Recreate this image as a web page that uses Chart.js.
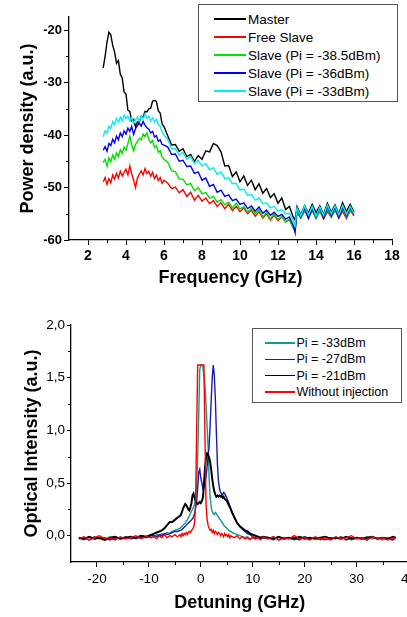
<!DOCTYPE html>
<html>
<head>
<meta charset="utf-8">
<script src="https://cdn.jsdelivr.net/npm/chart.js@4.4.1/dist/chart.umd.min.js"></script>
<style>
  body { margin: 0; width: 407px; height: 617px; overflow: hidden; background: #fff;
         font-family: "Liberation Sans", Arial, sans-serif; }
  canvas { position: absolute; left: 0; }
  #top { top: 0; }
  #bottom { top: 300px; }
  .legend { position: absolute; box-sizing: border-box; border: 1.5px solid #555; background: #fff; color: #000; }
  .legend .row { display: flex; align-items: center; white-space: nowrap; }
  .legend .swatch { display: inline-block; height: 1.5px; }
</style>
</head>
<body>
<canvas id="top" width="407" height="300"></canvas>
<canvas id="bottom" width="420" height="317"></canvas>
<div id="legendTop" class="legend" style="left:198px;top:4px;width:200px;height:98px;padding-top:5px;font-size:13.5px"></div>
<div id="legendBottom" class="legend" style="left:252px;top:328px;width:150px;height:75px;padding-top:6px;font-size:12.5px"></div>
<script>
// ---- top panel: RF spectra ----
const freqGHz = [
  2.8, 2.9, 3.0, 3.1, 3.2, 3.3, 3.4, 3.5, 3.6, 3.7, 3.8, 3.9,
  4.0, 4.1, 4.2, 4.3, 4.4, 4.5, 4.6, 4.7, 4.8, 4.9,
  5.0, 5.1, 5.2, 5.3, 5.4, 5.5, 5.6, 5.7, 5.8, 5.9, 6.0,
  6.2, 6.4, 6.6, 6.8, 7.0, 7.2, 7.4, 7.6, 7.8, 8.0,
  8.2, 8.4, 8.6, 8.8, 9.0, 9.2, 9.4, 9.6, 9.8, 10.0,
  10.2, 10.4, 10.6, 10.8, 11.0, 11.2, 11.4, 11.6, 11.8, 12.0,
  12.2, 12.4, 12.6, 12.8, 12.9, 13.0,
  13.2, 13.4, 13.6, 13.8, 14.0, 14.2, 14.4, 14.6, 14.8, 15.0,
  15.2, 15.4, 15.6, 15.8, 16.0
];
const master = [
  -27.2, -25.0, -22.3, -20.4, -20.9, -22.9, -24.2, -26.3, -25.8, -28.4, -29.1, -31.8,
  -32.2, -35.3, -35.5, -37.3, -37.0, -38.4, -37.5, -37.6, -36.4, -36.6,
  -35.5, -35.6, -35.0, -34.9, -33.5, -33.4, -33.6, -35.4, -35.8, -37.9, -38.4,
  -40.2, -41.9, -41.8, -43.1, -42.6, -44.1, -43.7, -45.0, -43.9, -44.6,
  -43.0, -43.2, -41.6, -42.0, -43.2, -45.9, -45.8, -47.9, -47.0, -48.9,
  -47.8, -49.6, -48.6, -50.4, -49.3, -51.1, -50.2, -51.9, -51.2, -53.0,
  -52.0, -54.2, -53.6, -55.6, -56.2, -53.6,
  -55.2, -53.4, -54.9, -53.2, -54.8, -53.5, -55.1, -53.0, -54.7, -53.3,
  -55.0, -52.9, -54.6, -53.2, -54.7
];
const freeSlave = [
  -48.9, -48.1, -49.4, -48.3, -49.1, -47.6, -48.4, -47.3, -48.2, -46.9, -47.8, -47.1,
  -46.5, -47.6, -45.9, -47.4, -48.6, -50.0, -48.2, -47.5, -46.8, -47.6,
  -46.4, -47.3, -46.9, -47.8, -47.1, -48.3, -47.6, -48.7, -48.1, -49.2, -48.6,
  -49.2, -50.2, -49.9, -51.0, -50.4, -51.7, -50.9, -52.4, -51.5, -52.6,
  -52.0, -53.1, -52.5, -53.6, -52.9, -54.0, -53.2, -54.4, -53.6, -54.6,
  -53.9, -55.0, -54.3, -55.5, -54.6, -55.8, -55.0, -56.2, -55.3, -56.3,
  -55.6, -56.6, -56.1, -57.6, -58.0, -54.8,
  -55.8, -54.4, -55.7, -54.3, -55.8, -54.5, -56.0, -54.6, -55.6, -54.3,
  -55.8, -54.5, -55.9, -54.4, -55.4
];
const slave385 = [
  -45.2, -44.6, -46.0, -44.3, -45.1, -43.8, -44.6, -43.4, -44.1, -42.8, -43.5, -42.3,
  -42.9, -41.6, -40.2, -41.9, -43.0, -41.8, -41.2, -40.6, -40.9, -39.8,
  -40.3, -39.6, -40.8, -41.5, -41.0, -42.4, -42.0, -43.3, -43.0, -44.2, -44.6,
  -45.2, -46.8, -47.0, -48.4, -48.4, -49.5, -49.2, -50.6, -50.0, -51.2,
  -50.9, -52.0, -51.7, -52.8, -52.3, -53.3, -52.8, -53.9, -53.0, -54.1,
  -53.6, -54.7, -53.9, -55.0, -54.2, -55.6, -54.7, -56.0, -55.0, -56.1,
  -55.5, -56.6, -56.0, -57.8, -58.2, -54.4,
  -55.8, -54.2, -55.7, -54.3, -55.9, -54.4, -55.6, -54.1, -55.7, -54.2,
  -55.5, -54.0, -55.6, -54.3, -55.2
];
const slave36 = [
  -42.9, -42.2, -43.1, -41.6, -42.0, -40.8, -41.5, -40.2, -40.9, -39.6, -40.3, -39.2,
  -39.8, -38.7, -39.3, -38.4, -39.9, -38.8, -38.2, -37.7, -38.3, -37.4,
  -38.1, -38.6, -38.9, -39.6, -39.3, -40.4, -40.1, -41.2, -40.9, -41.8, -41.9,
  -42.3, -43.7, -43.6, -45.0, -44.8, -46.0, -45.9, -47.3, -47.0, -48.6,
  -48.2, -49.8, -49.4, -50.9, -50.5, -51.7, -51.4, -52.5, -52.2, -53.2,
  -52.9, -54.0, -53.5, -54.5, -53.7, -54.9, -54.3, -55.3, -54.7, -55.5,
  -55.1, -56.0, -55.6, -57.2, -58.6, -54.0,
  -55.6, -53.9, -55.9, -54.1, -55.7, -53.8, -55.8, -53.6, -55.4, -53.8,
  -55.7, -53.7, -55.4, -53.9, -55.1
];
const slave33 = [
  -40.3, -39.2, -39.6, -38.3, -38.7, -37.4, -38.0, -36.8, -37.5, -36.6, -37.3, -36.2,
  -36.9, -36.4, -37.3, -36.7, -37.8, -37.1, -36.6, -37.4, -36.3, -36.9,
  -36.0, -36.8, -36.4, -37.3, -36.7, -37.5, -37.0, -38.0, -38.3, -39.4, -40.0,
  -40.8, -42.6, -42.6, -43.8, -43.3, -44.6, -44.1, -45.4, -44.8, -45.9,
  -45.4, -46.6, -46.2, -47.5, -47.0, -48.3, -48.1, -49.3, -49.2, -50.5,
  -50.3, -51.5, -51.3, -52.4, -52.0, -53.1, -52.9, -53.9, -53.6, -54.5,
  -54.2, -55.0, -54.9, -56.2, -57.2, -53.9,
  -55.4, -53.5, -55.2, -53.6, -55.5, -53.7, -55.3, -53.3, -55.0, -53.5,
  -55.2, -53.4, -55.1, -53.6, -55.0
];
const topMinorX = [3, 5, 7, 9, 11, 13, 15, 17];
const topMinorY = [-55, -45, -35, -25];

// ---- bottom panel: optical spectra ----
const detuning = [
  -23.5, -22.5, -21.5, -20.5, -19.5, -18.5, -17.5, -16.5, -15.5, -14.5, -13.5, -12.5, -11.5, -10.5, -9.5,
  -9, -8.5, -8, -7.5, -7, -6.5, -6, -5.5, -5, -4.5,
  -4.0, -3.8, -3.6, -3.4, -3.2, -3.0, -2.8, -2.6, -2.4, -2.2,
  -2.0, -1.8, -1.6, -1.4, -1.2, -1.0, -0.8, -0.6, -0.4, -0.2,
  0.0, 0.2, 0.4, 0.6, 0.8, 1.0, 1.2, 1.4, 1.6, 1.8,
  2.0, 2.2, 2.4, 2.6, 2.8, 3.0, 3.2, 3.4, 3.6, 3.8,
  4.0, 4.2, 4.4, 4.6, 4.8, 5.0, 5.2, 5.4, 5.6, 5.8,
  6.0,
  6.5, 7, 7.5, 8, 8.5, 9, 9.5, 10, 10.5, 11, 11.5, 12,
  13, 14, 15, 16, 17, 18, 19, 20, 21, 22, 23, 24, 25,
  26, 27, 28, 29, 30, 31, 32, 33, 34, 35, 36, 37, 37.5
];
const pi33 = [
  -0.02, -0.04, -0.01, -0.03, -0.02, -0.04, -0.01, -0.03, -0.02, -0.03, -0.01, -0.03, -0.02, -0.01, 0.00,
  -0.01, 0.01, 0.00, 0.02, 0.01, 0.03, 0.02, 0.04, 0.05, 0.06,
  0.07, 0.08, 0.09, 0.10, 0.11, 0.12, 0.14, 0.15, 0.17, 0.19,
  0.21, 0.23, 0.25, 0.27, 0.30, 0.36, 0.48, 0.75, 1.15, 1.58,
  1.62, 1.62, 1.60, 1.52, 1.42, 1.25, 1.05, 0.85, 0.55, 0.36,
  0.27, 0.23, 0.21, 0.20, 0.22, 0.21, 0.19, 0.18, 0.16, 0.15,
  0.13, 0.12, 0.10, 0.09, 0.08, 0.07, 0.06, 0.05, 0.04, 0.04,
  0.03,
  0.02, 0.01, 0.00, -0.01, -0.02, -0.01, -0.03, -0.02, -0.03, -0.01, -0.03, -0.02,
  -0.02, -0.04, -0.01, -0.03, -0.02, -0.04, -0.02, -0.01, -0.03, -0.02, -0.04, -0.01, -0.03,
  -0.02, -0.03, -0.01, -0.04, -0.02, -0.03, -0.01, -0.03, -0.02, -0.04, -0.02, -0.03, -0.02
];
const pi27 = [
  -0.03, -0.02, -0.04, -0.01, -0.03, -0.02, -0.04, -0.02, -0.03, -0.01, -0.03, -0.02, -0.01, -0.02, 0.00,
  0.00, -0.01, 0.01, 0.00, 0.02, 0.01, 0.02, 0.03, 0.04, 0.04,
  0.05, 0.05, 0.06, 0.07, 0.08, 0.09, 0.10, 0.11, 0.12, 0.13,
  0.14, 0.15, 0.16, 0.18, 0.21, 0.26, 0.33, 0.45, 0.60, 0.63,
  0.55, 0.50, 0.45, 0.47, 0.50, 0.55, 0.65, 0.75, 0.85, 1.05,
  1.28, 1.50, 1.62, 1.52, 1.30, 0.98, 0.68, 0.52, 0.45, 0.41,
  0.40, 0.39, 0.41, 0.40, 0.38, 0.36, 0.33, 0.31, 0.28, 0.25,
  0.23,
  0.17, 0.12, 0.09, 0.06, 0.04, 0.02, 0.01, -0.01, -0.02, -0.01, -0.03, -0.02,
  -0.03, -0.01, -0.04, -0.02, -0.03, -0.02, -0.04, -0.01, -0.03, -0.02, -0.03, -0.04, -0.02,
  -0.03, -0.01, -0.04, -0.02, -0.03, -0.02, -0.04, -0.01, -0.03, -0.02, -0.03, -0.04, -0.02
];
const pi21 = [
  -0.02, -0.03, -0.01, -0.03, -0.02, -0.04, -0.02, -0.01, -0.03, -0.02, -0.01, -0.02, 0.00, -0.01, 0.01,
  0.02, 0.03, 0.04, 0.05, 0.07, 0.10, 0.13, 0.13, 0.15, 0.17,
  0.19, 0.20, 0.23, 0.26, 0.28, 0.30, 0.29, 0.27, 0.25, 0.24,
  0.27, 0.31, 0.38, 0.40, 0.36, 0.33, 0.31, 0.30, 0.31, 0.32,
  0.31, 0.33, 0.36, 0.48, 0.64, 0.74, 0.78, 0.77, 0.74, 0.70,
  0.63, 0.54, 0.47, 0.42, 0.39, 0.37, 0.38, 0.37, 0.38, 0.37,
  0.38, 0.36, 0.37, 0.35, 0.34, 0.33, 0.31, 0.29, 0.27, 0.25,
  0.22,
  0.17, 0.12, 0.09, 0.07, 0.05, 0.04, 0.02, 0.01, 0.00, -0.01, -0.02, -0.01,
  -0.02, -0.03, -0.01, -0.03, -0.02, -0.03, -0.01, -0.03, -0.02, -0.03, -0.02, -0.01, -0.03,
  -0.02, -0.03, -0.01, -0.03, -0.02, -0.03, -0.02, -0.01, -0.03, -0.02, -0.03, -0.01, -0.02
];
const noInjection = [
  -0.03, -0.01, -0.04, -0.02, 0.00, -0.03, -0.02, -0.04, -0.01, -0.03, -0.02, 0.00, -0.03, -0.01, -0.02,
  -0.01, -0.03, 0.00, -0.02, 0.01, -0.02, 0.00, -0.01, 0.01, -0.01,
  0.01, -0.01, 0.02, 0.00, 0.02, 0.01, 0.03, 0.01, 0.03, 0.04,
  0.03, 0.05, 0.06, 0.08, 0.12, 0.30, 1.00, 1.62, 1.62, 1.62,
  1.62, 1.62, 1.62, 1.62, 0.95, 0.30, 0.16, 0.10, 0.07, 0.05,
  0.06, 0.03, 0.05, 0.02, 0.04, 0.03, 0.01, 0.03, 0.02, 0.00,
  0.02, 0.01, -0.01, 0.02, 0.00, 0.01, -0.01, 0.01, -0.02, 0.00,
  -0.01,
  -0.02, 0.00, -0.03, -0.01, -0.03, -0.02, -0.04, -0.01, -0.03, -0.02, -0.04, -0.01,
  -0.03, -0.01, -0.04, -0.02, -0.03, 0.00, -0.03, -0.02, -0.04, -0.01, -0.03, -0.02, -0.04,
  -0.01, -0.03, -0.02, 0.00, -0.03, -0.02, -0.04, -0.01, -0.03, -0.02, -0.04, -0.02, -0.03
];
const bottomMinorX = [-15, -5, 5, 15, 25, 35];
const bottomMinorY = [0.25, 0.75, 1.25, 1.75];

Chart.defaults.font.family = '"Liberation Sans", Arial, sans-serif';
Chart.defaults.color = '#000';

// short unlabeled ticks between the labelled ones
const minorTicks = {
  id: 'minorTicks',
  afterDraw(chart, args, opts) {
    const { ctx, scales: { x, y } } = chart;
    ctx.save();
    ctx.strokeStyle = '#000';
    ctx.lineWidth = 1;
    ctx.beginPath();
    opts.x.forEach(function(v) {
      const p = Math.round(x.getPixelForValue(v)) + 0.5;
      ctx.moveTo(p, x.top);
      ctx.lineTo(p, x.top + opts.length);
    });
    opts.y.forEach(function(v) {
      const p = Math.round(y.getPixelForValue(v)) + 0.5;
      ctx.moveTo(y.right, p);
      ctx.lineTo(y.right - opts.length, p);
    });
    ctx.stroke();
    ctx.restore();
  }
};

function series(xs, ys) {
  return xs.map(function(x, i) { return { x: x, y: ys[i] }; });
}

function line(label, xs, ys, color, width, order) {
  return {
    label: label,
    data: series(xs, ys),
    borderColor: color,
    backgroundColor: color,
    borderWidth: width,
    pointRadius: 0,
    tension: 0,
    order: order,
  };
}

function axis(min, max, step, opts) {
  return {
    type: 'linear',
    min: min,
    max: max,
    border: { color: '#000', width: 1.3 },
    grid: { drawOnChartArea: false, color: '#000', tickLength: opts.tickLength, tickWidth: 1 },
    ticks: {
      stepSize: step,
      includeBounds: false,
      autoSkip: false,
      maxRotation: 0,
      padding: opts.tickPadding,
      color: '#000',
      font: { size: opts.tickSize, weight: opts.bold ? 'bold' : 'normal' },
      callback: opts.format,
    },
    title: {
      display: true,
      text: opts.title,
      color: '#000',
      font: { size: 18, weight: 'bold' },
      padding: opts.titlePadding,
    },
    afterFit: opts.fit,
  };
}

const topChart = new Chart(document.getElementById('top'), {
  type: 'line',
  data: {
    datasets: [
      line('Master', freqGHz, master, '#000000', 1.4, 4),
      line('Free Slave', freqGHz, freeSlave, '#ff0000', 1.4, 3),
      line('Slave (Pi = -38.5dBm)', freqGHz, slave385, '#00e000', 1.4, 2),
      line('Slave (Pi = -36dBm)', freqGHz, slave36, '#0000f0', 1.4, 1),
      line('Slave (Pi = -33dBm)', freqGHz, slave33, '#00f0f0', 1.4, 0),
    ]
  },
  options: {
    responsive: false,
    animation: false,
    events: [],
    layout: { padding: { top: 17, right: 15, left: 0, bottom: 0 } },
    plugins: {
      legend: { display: false },
      tooltip: { enabled: false },
      minorTicks: { x: topMinorX, y: topMinorY, length: 3 },
    },
    scales: {
      x: axis(1, 18, 2, {
        tickLength: 5, tickPadding: 3, tickSize: 14, bold: true, title: 'Frequency (GHz)',
        titlePadding: { top: 0, bottom: 11 },
        fit: function(s) { s.height = 60; },
      }),
      y: axis(-60, -17.5, 10, {
        tickLength: 5, tickPadding: 2, tickSize: 13, bold: true, title: 'Power density (a.u.)',
        titlePadding: { top: 17, bottom: 0 },
        fit: function(s) { s.width = 69; },
      }),
    }
  },
  plugins: [minorTicks]
});

const bottomChart = new Chart(document.getElementById('bottom'), {
  type: 'line',
  data: {
    datasets: [
      line('Pi = -33dBm', detuning, pi33, '#129a8e', 1.4, 3),
      line('Pi = -27dBm', detuning, pi27, '#1c1caa', 1.4, 2),
      line('Pi = -21dBm', detuning, pi21, '#000000', 2, 1),
      line('Without injection', detuning, noInjection, '#ff0000', 1.4, 0),
    ]
  },
  options: {
    responsive: false,
    animation: false,
    events: [],
    layout: { padding: { top: 25, right: 9, left: 0, bottom: 0 } },
    plugins: {
      legend: { display: false },
      tooltip: { enabled: false },
      minorTicks: { x: bottomMinorX, y: bottomMinorY, length: 3 },
    },
    scales: {
      x: axis(-25, 40, 10, {
        tickLength: 5, tickPadding: 4, tickSize: 13.5, bold: false, title: 'Detuning (GHz)',
        titlePadding: { top: 0, bottom: 3 },
        fit: function(s) { s.height = 55; },
      }),
      y: axis(-0.25, 2.0, 0.5, {
        tickLength: 4, tickPadding: 2, tickSize: 13.5, bold: false, title: 'Optical Intensity (a.u.)',
        titlePadding: { top: 21, bottom: 0 },
        format: function(v) { return v.toFixed(1).replace('.', ','); },
        fit: function(s) { s.width = 71; },
      }),
    }
  },
  plugins: [minorTicks]
});

// boxed legends drawn from the chart datasets
function buildLegend(el, chart, o) {
  chart.data.datasets.forEach(function(ds) {
    const row = document.createElement('div');
    row.className = 'row';
    row.style.height = o.rowHeight + 'px';
    const sw = document.createElement('span');
    sw.className = 'swatch';
    sw.style.width = o.lineWidth + 'px';
    sw.style.marginLeft = o.indent + 'px';
    sw.style.marginRight = o.gap + 'px';
    sw.style.background = ds.borderColor;
    const txt = document.createElement('span');
    txt.textContent = ds.label;
    row.appendChild(sw);
    row.appendChild(txt);
    el.appendChild(row);
  });
}
buildLegend(document.getElementById('legendTop'), topChart, { rowHeight: 18, lineWidth: 32, indent: 15, gap: 2 });
buildLegend(document.getElementById('legendBottom'), bottomChart, { rowHeight: 16.3, lineWidth: 30, indent: 11.5, gap: 2 });
</script>
</body>
</html>
